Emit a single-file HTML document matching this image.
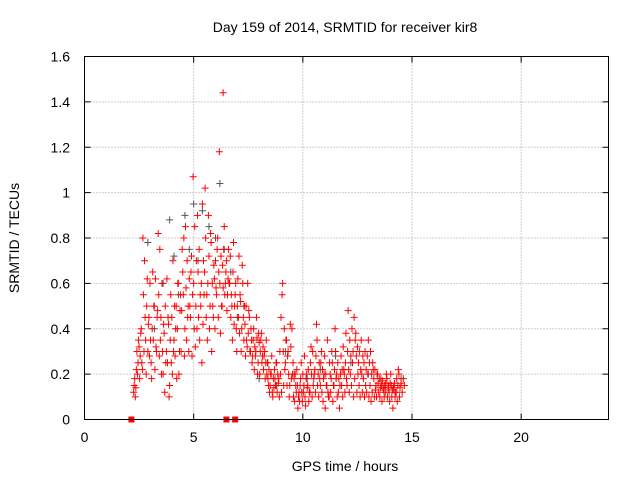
<!DOCTYPE html>
<html><head><meta charset="utf-8"><style>
body{margin:0;background:#fff;font-family:"Liberation Sans",sans-serif}
svg text{font-family:"Liberation Sans",sans-serif;font-size:14px;fill:#000}
</style></head><body>
<svg id="chart" width="640" height="480" xmlns="http://www.w3.org/2000/svg">
<rect width="640" height="480" fill="#fff"/>
<text x="345" y="32" text-anchor="middle">Day 159 of 2014, SRMTID for receiver kir8</text>
<text x="345" y="471" text-anchor="middle">GPS time / hours</text>
<text transform="translate(19,238) rotate(-90)" text-anchor="middle">SRMTID / TECUs</text>
<g id="grid"></g>
<g id="axes"></g>
<g id="gray"></g>
<g id="red"></g>
<rect x="84.5" y="56.5" width="524" height="363" fill="none" stroke="#000"/>
</svg>
<script>
const xTicks=[0,5,10,15,20];
const yTicks=[0,0.2,0.4,0.6,0.8,1,1.2,1.4,1.6];
const yTickLabels=["0","0.2","0.4","0.6","0.8","1","1.2","1.4","1.6"];
const redT=[2.25,2.3,2.35,2.4,2.45,2.5,2.55,2.6,2.65,2.7,2.75,2.8,2.85,2.9,2.95,3.0,3.05,3.1,3.15,3.2,3.25,3.3,3.35,3.4,3.45,3.5,3.55,3.6,3.65,3.7,3.75,3.8,3.85,3.9,3.95,4.0,4.05,4.1,4.15,4.2,4.25,4.3,4.35,4.4,4.45,4.5,4.55,4.6,4.65,4.7,4.75,4.8,4.85,4.9,4.95,5.0,5.05,5.1,5.15,5.2,5.25,5.3,5.35,5.4,5.45,5.5,5.55,5.6,5.65,5.7,5.75,5.8,5.85,5.9,5.95,6.0,6.05,6.1,6.15,6.2,6.25,6.3,6.35,6.4,6.45,6.5,6.55,6.6,6.65,6.7,6.75,6.8,6.85,6.9,6.95,7.0,7.05,7.1,7.15,7.2,7.25,7.3,7.35,7.4,7.45,7.5,7.55,7.6,7.65,7.7,7.75,7.8,7.85,7.9,7.95,8.0,8.05,8.1,8.15,8.2,8.25,8.3,8.35,8.4,8.45,8.5,8.55,8.6,8.65,8.7,8.75,8.8,8.85,8.9,8.95,9.0,9.05,9.1,9.15,9.2,9.25,9.3,9.35,9.4,9.45,9.5,9.55,9.6,9.65,9.7,9.75,9.8,9.85,9.9,9.95,10.0,10.05,10.1,10.15,10.2,10.25,10.3,10.35,10.4,10.45,10.5,10.55,10.6,10.65,10.7,10.75,10.8,10.85,10.9,10.95,11.0,11.05,11.1,11.15,11.2,11.25,11.3,11.35,11.4,11.45,11.5,11.55,11.6,11.65,11.7,11.75,11.8,11.85,11.9,11.95,12.0,12.05,12.1,12.15,12.2,12.25,12.3,12.35,12.4,12.45,12.5,12.55,12.6,12.65,12.7,12.75,12.8,12.85,12.9,12.95,13.0,13.05,13.1,13.15,13.2,13.25,13.3,13.35,13.4,13.45,13.5,13.55,13.6,13.65,13.7,13.75,13.8,13.85,13.9,13.95,14.0,14.05,14.1,14.15,14.2,14.25,14.3,14.35,14.4,14.45,14.5,14.55,14.6,14.65,14.7,14.75,14.8,14.85,14.9];
const redA=[0.12,0.18,0.14,0.3,0.25,0.32,0.28,0.4,0.22,0.55,0.7,0.35,0.5,0.3,0.45,0.6,0.25,0.4,0.35,0.5,0.62,0.3,0.48,0.55,0.75,0.45,0.6,0.2,0.38,0.5,0.3,0.25,0.42,0.15,0.55,0.45,0.7,0.35,0.28,0.5,0.4,0.6,0.3,0.55,0.48,0.65,0.8,0.4,0.58,0.7,0.5,0.62,0.45,0.72,0.55,0.6,0.85,0.5,0.4,0.65,0.75,0.55,0.6,0.95,0.7,0.65,0.8,0.55,0.6,0.72,0.5,0.78,0.6,0.45,0.62,0.7,0.55,0.8,0.65,0.6,0.72,0.5,0.58,0.85,0.6,0.7,0.55,0.75,0.6,0.45,0.5,0.65,0.42,0.55,0.4,0.5,0.45,0.38,0.52,0.4,0.6,0.35,0.42,0.5,0.32,0.38,0.45,0.3,0.35,0.28,0.4,0.32,0.3,0.36,0.25,0.34,0.3,0.38,0.28,0.22,0.3,0.25,0.2,0.18,0.22,0.15,0.2,0.12,0.18,0.22,0.15,0.25,0.2,0.18,0.3,0.45,0.55,0.3,0.4,0.25,0.35,0.28,0.2,0.15,0.32,0.4,0.25,0.18,0.2,0.12,0.15,0.1,0.08,0.18,0.12,0.2,0.15,0.1,0.18,0.14,0.22,0.12,0.25,0.2,0.3,0.18,0.22,0.28,0.35,0.2,0.25,0.15,0.3,0.22,0.18,0.28,0.2,0.15,0.12,0.1,0.2,0.18,0.25,0.15,0.22,0.3,0.2,0.25,0.18,0.15,0.28,0.22,0.32,0.2,0.25,0.18,0.3,0.22,0.35,0.28,0.4,0.3,0.45,0.35,0.28,0.32,0.25,0.3,0.22,0.2,0.28,0.25,0.3,0.22,0.28,0.35,0.25,0.3,0.2,0.25,0.18,0.22,0.15,0.2,0.16,0.18,0.14,0.15,0.17,0.13,0.15,0.16,0.18,0.14,0.12,0.16,0.15,0.13,0.14,0.16,0.12,0.18,0.15,0.2,0.14,0.16,0.12,0.18,0.15];
const redB=[0.15,0.1,0.22,0.2,0.35,0.18,0.38,0.25,0.8,0.3,0.45,0.2,0.62,0.42,0.28,0.35,0.18,0.65,0.5,0.22,0.32,0.45,0.82,0.28,0.35,0.2,0.3,0.42,0.12,0.25,0.62,0.45,0.1,0.35,0.25,0.2,0.3,0.5,0.4,0.18,0.6,0.2,0.48,0.3,0.75,0.55,0.28,0.85,0.35,0.45,0.3,0.5,0.65,0.28,1.07,0.4,0.32,0.7,0.9,0.45,0.35,0.5,0.25,0.42,0.55,1.02,0.45,0.35,0.9,0.4,0.82,0.3,0.5,0.68,0.4,0.58,0.75,0.45,1.18,0.38,0.5,0.68,0.75,0.55,0.65,0.48,0.62,0.6,0.72,0.55,0.35,0.78,0.5,0.6,0.3,0.62,0.72,0.55,0.3,0.68,0.45,0.5,0.28,0.35,0.6,0.48,0.3,0.4,0.25,0.35,0.22,0.28,0.45,0.2,0.38,0.2,0.35,0.25,0.32,0.28,0.18,0.35,0.25,0.15,0.12,0.2,0.28,0.1,0.14,0.18,0.25,0.12,0.16,0.1,0.2,0.12,0.6,0.15,0.22,0.35,0.15,0.3,0.1,0.42,0.18,0.2,0.1,0.08,0.15,0.22,0.05,0.12,0.15,0.25,0.08,0.12,0.28,0.06,0.2,0.15,0.08,0.12,0.32,0.1,0.15,0.2,0.12,0.42,0.15,0.1,0.18,0.25,0.12,0.08,0.2,0.05,0.15,0.35,0.1,0.25,0.12,0.3,0.08,0.15,0.4,0.18,0.1,0.12,0.05,0.2,0.15,0.1,0.22,0.12,0.38,0.15,0.48,0.12,0.2,0.15,0.25,0.1,0.18,0.38,0.12,0.2,0.15,0.1,0.35,0.12,0.18,0.1,0.15,0.12,0.2,0.1,0.15,0.08,0.12,0.22,0.1,0.13,0.1,0.2,0.12,0.1,0.18,0.08,0.14,0.1,0.12,0.2,0.1,0.15,0.08,0.2,0.1,0.05,0.13,0.1,0.12,0.08,0.22,0.1];
const grayT=[2.9,3.2,3.6,3.9,4.1,4.3,4.6,4.8,5.0,5.2,5.4,5.7,6.0,6.2,6.4,6.7,7.0,7.3,7.6,8.0,8.4,8.8,9.2,9.6,10.2,10.8,11.5,12.2,13.0,13.8,14.5];
const grayV=[0.78,0.4,0.6,0.88,0.72,0.55,0.9,0.75,0.95,0.7,0.92,0.85,0.8,1.04,0.75,0.65,0.45,0.5,0.3,0.18,0.25,0.15,0.3,0.2,0.18,0.22,0.28,0.25,0.2,0.15,0.18];
const zeroT=[2.15,6.5,6.9];
const X=t=>84.5+t*(524/24), Y=v=>419.5-v*(363/1.6);
const NS="http://www.w3.org/2000/svg";
function mk(tag,attrs,parent){const e=document.createElementNS(NS,tag);for(const k in attrs)e.setAttribute(k,attrs[k]);parent.appendChild(e);return e;}
const grid=document.getElementById('grid'),axes=document.getElementById('axes');
xTicks.forEach(t=>{const x=X(t);
 if(t>0){const g=mk('line',{x1:x,x2:x,y1:56.5,y2:419.5,stroke:'#a0a0a0','stroke-dasharray':'1,2'},grid);}
 mk('line',{x1:x,x2:x,y1:419.5,y2:413.5,stroke:'#000'},axes);mk('line',{x1:x,x2:x,y1:56.5,y2:62.5,stroke:'#000'},axes);
 const tx=mk('text',{x:x,y:442,'text-anchor':'middle'},axes);tx.textContent=t;
 });
yTicks.forEach((v,i)=>{const y=Y(v);
 if(v>0&&v<1.6){const g=mk('line',{x1:84.5,x2:608.5,y1:y,y2:y,stroke:'#a0a0a0','stroke-dasharray':'1,2'},grid);}
 mk('line',{x1:84.5,x2:90.5,y1:y,y2:y,stroke:'#000'},axes);mk('line',{x1:608.5,x2:602.5,y1:y,y2:y,stroke:'#000'},axes);
 const tx=mk('text',{x:70,y:y+5,'text-anchor':'end'},axes);tx.textContent=yTickLabels[i];
 });
function plus(g,t,v,c){const x=X(t),y=Y(v);
 const p=mk('path',{d:`M${x-3.5},${y}h7M${x},${y-3.5}v7`,stroke:c,'stroke-width':1},g);
 }
const gg=document.getElementById('gray'),rg=document.getElementById('red');
grayT.forEach((t,i)=>plus(gg,t,grayV[i],'#555'));
redT.forEach((t,i)=>{plus(rg,t,redA[i],'#f00');plus(rg,t+0.025,redB[i],'#f00');});
plus(rg,6.35,1.44,'#f00');
zeroT.forEach(t=>{const r=mk('rect',{x:X(t)-3,y:Y(0)-3,width:6,height:6,fill:'#f00'},rg);});
</script>
</body></html>
